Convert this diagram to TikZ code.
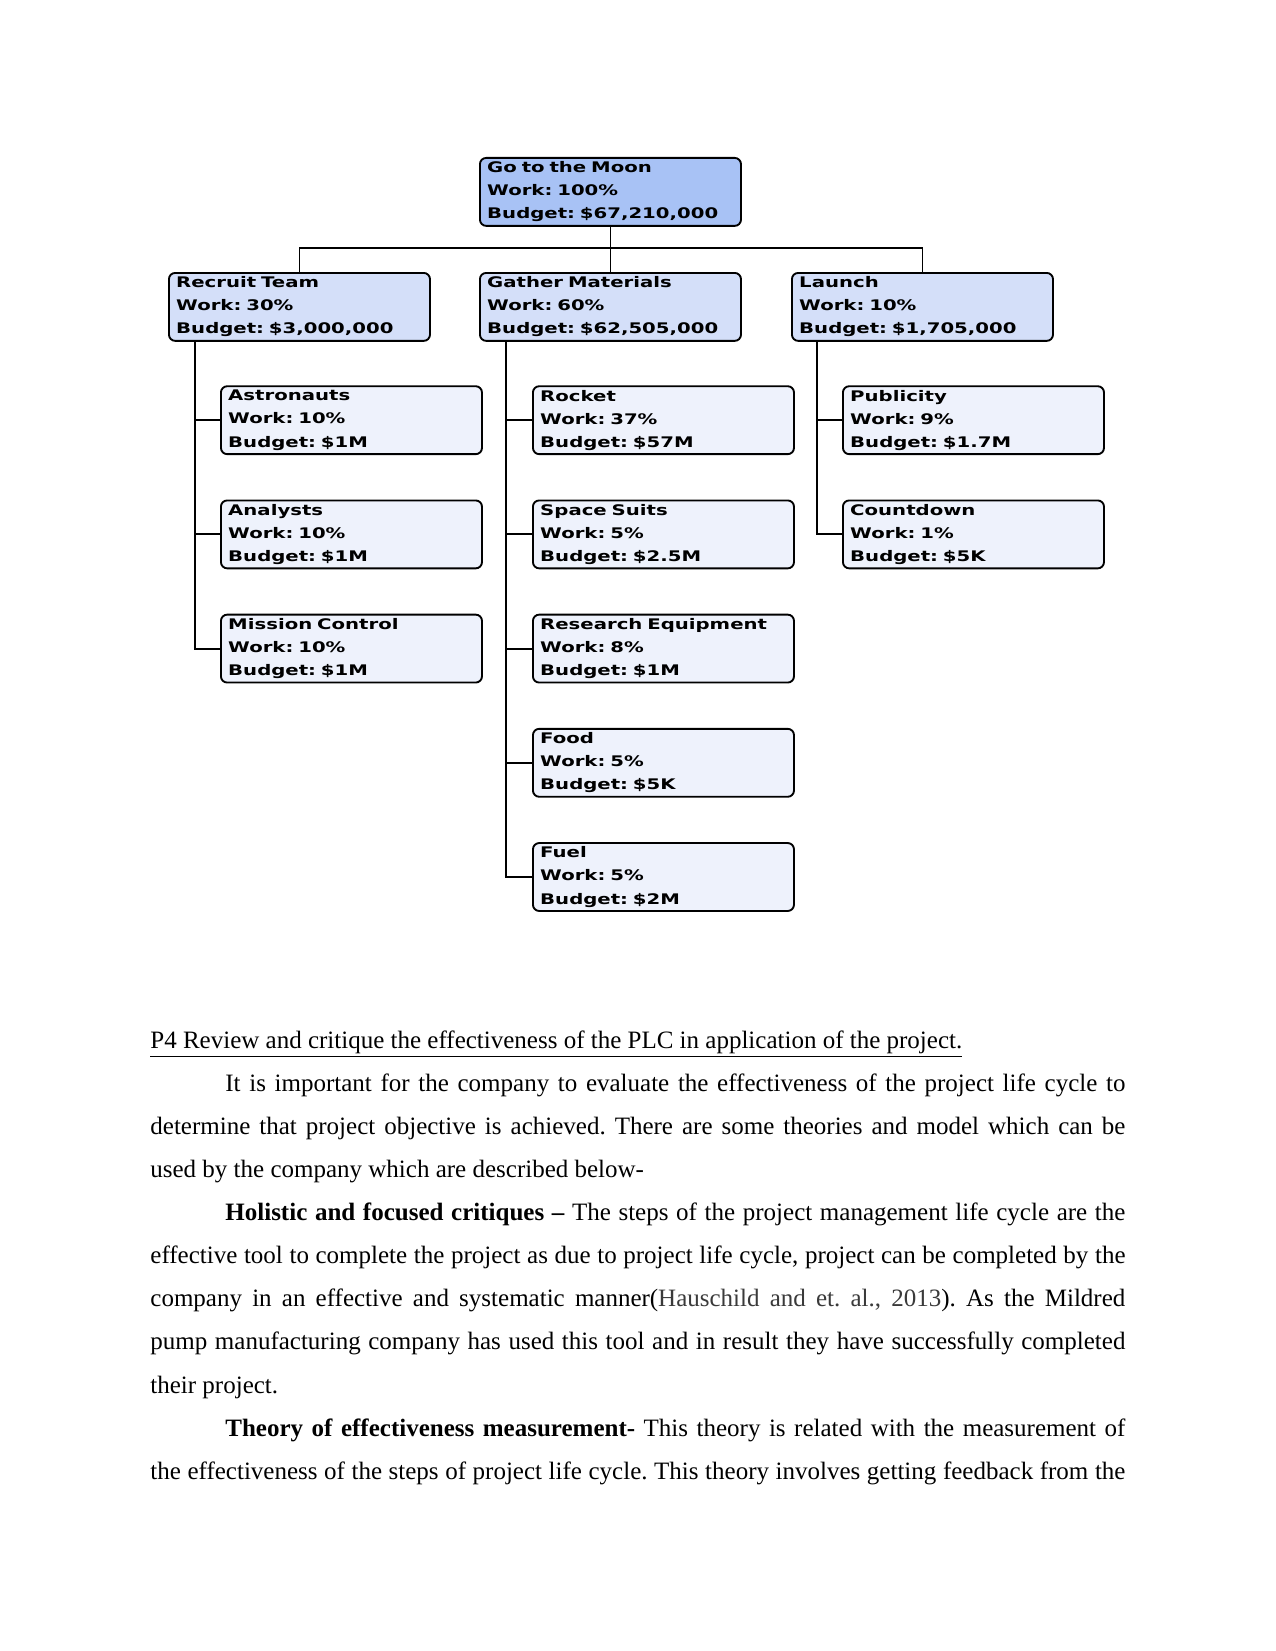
\documentclass[tikz,border=0pt]{standalone}
\usepackage{fontspec}
\setmainfont{Liberation Serif}
\newfontfamily\wbsfont[FakeStretch=1.35]{DejaVu Sans}
\usetikzlibrary{calc}
\definecolor{topfill}{HTML}{A8C2F5}
\definecolor{midfill}{HTML}{D4DFF9}
\definecolor{leaffill}{HTML}{EEF2FC}
\definecolor{citegray}{HTML}{3A3A3A}
\tikzset{
  wbs/.style={draw, line width=0.9pt, rounded corners=3pt, minimum width=125.3pt,
    minimum height=32.6pt, anchor=north west, align=left, inner xsep=3.5pt, inner ysep=0pt,
    text width=118.3pt, font=\wbsfont\bfseries\frenchspacing\fontsize{7}{11.1}\selectfont},
  wbstop/.style={wbs, fill=topfill},
  wbsmid/.style={wbs, fill=midfill},
  wbsleaf/.style={wbs, fill=leaffill},
  conn/.style={line width=0.9pt}
}
\begin{document}
\begin{tikzpicture}[x=0.48pt,y=-0.48pt]
\useasboundingbox (0,0) rectangle (1275,1651);
\fill[white] (0,0) rectangle (1275,1651);
% top
\node[wbstop] (top) at (479,157) {Go to the Moon\\Work: 100\%\\Budget: \$67,210,000};
% level 2
\node[wbsmid] (recruit) at (168,272) {Recruit Team\\Work: 30\%\\Budget: \$3,000,000};
\node[wbsmid] (gather) at (479,272) {Gather Materials\\Work: 60\%\\Budget: \$62,505,000};
\node[wbsmid] (launch) at (791,272) {Launch\\Work: 10\%\\Budget: \$1,705,000};
% leaves recruit
\node[wbsleaf] (astro) at (220,385.3) {Astronauts\\Work: 10\%\\Budget: \$1M};
\node[wbsleaf] (analysts) at (220,499.5) {Analysts\\Work: 10\%\\Budget: \$1M};
\node[wbsleaf] (mission) at (220,613.7) {Mission Control\\Work: 10\%\\Budget: \$1M};
% leaves gather
\node[wbsleaf] (rocket) at (532,385.3) {Rocket\\Work: 37\%\\Budget: \$57M};
\node[wbsleaf] (suits) at (532,499.5) {Space Suits\\Work: 5\%\\Budget: \$2.5M};
\node[wbsleaf] (research) at (532,613.7) {Research Equipment\\Work: 8\%\\Budget: \$1M};
\node[wbsleaf] (food) at (532,727.9) {Food\\Work: 5\%\\Budget: \$5K};
\node[wbsleaf] (fuel) at (532,842.1) {Fuel\\Work: 5\%\\Budget: \$2M};
% leaves launch
\node[wbsleaf] (publicity) at (842,385.3) {Publicity\\Work: 9\%\\Budget: \$1.7M};
\node[wbsleaf] (countdown) at (842,499.5) {Countdown\\Work: 1\%\\Budget: \$5K};
% connectors
\coordinate (bus) at (0,248);
\draw[conn] (top.south) -- (gather.north);
\draw[conn] (recruit.north) |- (launch.north |- bus) -- (launch.north);
\coordinate (rt) at ($(recruit.south west)+(27,0)$);
\coordinate (gt) at ($(gather.south west)+(27,0)$);
\coordinate (lt) at ($(launch.south west)+(26,0)$);
\foreach \c in {astro,analysts,mission} \draw[conn] (rt) |- (\c.west);
\foreach \c in {rocket,suits,research,food,fuel} \draw[conn] (gt) |- (\c.west);
\foreach \c in {publicity,countdown} \draw[conn] (lt) |- (\c.west);
% body text
\node[anchor=base west, inner sep=0pt, text width=468pt, align=justify,
  font=\frenchspacing\fontsize{12}{20.7}\selectfont] (body) at (150,1048) {%
\setlength{\parindent}{0pt}\setlength{\parskip}{0pt}\tolerance=9999\emergencystretch=20pt
\underline{P4 Review and critique the effectiveness of the PLC in application of the project.}\par
\hspace*{36pt}It is important for the company to evaluate the effectiveness of the project life cycle to\linebreak
determine that project objective is achieved. There are some theories and model which can be\linebreak
used by the company which are described below-\par
\hspace*{36pt}\textbf{Holistic and focused critiques –} The steps of the project management life cycle are the\linebreak
effective tool to complete the project as due to project life cycle, project can be completed by the\linebreak
company in an effective and systematic manner({\color{citegray}Hauschild and et. al., 2013}). As the Mildred\linebreak
pump manufacturing company has used this tool and in result they have successfully completed\linebreak
their project.\par
{\parfillskip=0pt\hspace*{36pt}\textbf{Theory of effectiveness measurement-} This theory is related with the measurement of\linebreak
the effectiveness of the steps of project life cycle. This theory involves getting feedback from the\par}%
};
\end{tikzpicture}
\end{document}
